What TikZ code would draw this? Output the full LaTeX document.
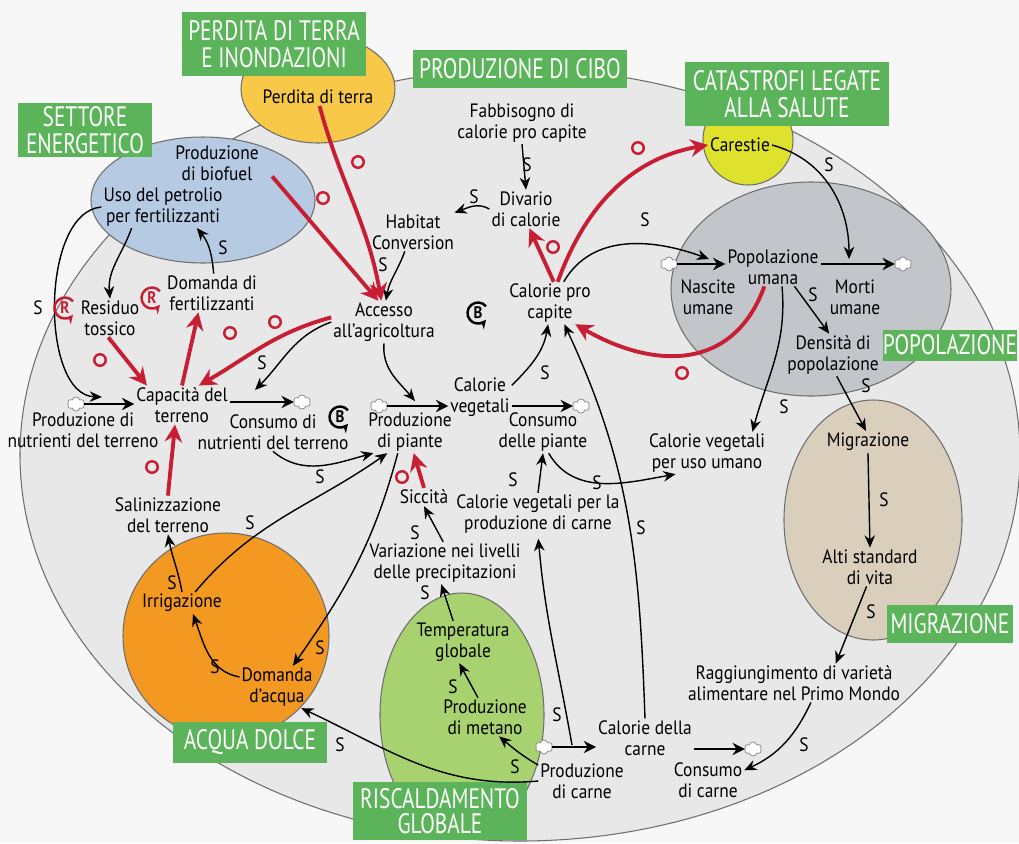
\documentclass[tikz,border=0pt]{standalone}
\usepackage{fontspec}
\setmainfont{PT Sans}[FakeStretch=0.9]
\newfontfamily\labfont{PT Sans}[FakeStretch=0.76]
\usepackage{tikz}
\usetikzlibrary{
  arrows.meta,
  shapes.geometric,
  shapes.symbols,
  positioning
}

\definecolor{bggray}{RGB}{247,247,247}
\definecolor{foodgray}{RGB}{232,232,232}
\definecolor{edgegray}{RGB}{110,110,110}
\definecolor{labgreen}{RGB}{92,180,90}
\definecolor{landyellow}{RGB}{248,200,72}
\definecolor{energyblue}{RGB}{182,202,228}
\definecolor{famineyellow}{RGB}{222,226,44}
\definecolor{popgray}{RGB}{194,198,203}
\definecolor{migrtan}{RGB}{217,207,188}
\definecolor{waterorange}{RGB}{243,152,32}
\definecolor{warmgreen}{RGB}{168,210,112}
\definecolor{arrred}{RGB}{200,30,52}

\begin{document}
\begin{tikzpicture}[x=0.02cm,y=-0.02cm,
  every text node part/.style={align=center},
  var/.style={font=\fontsize{11}{11.7}\selectfont,inner sep=1pt},
  tag/.style={fill=labgreen,text=white,font=\labfont\fontsize{16}{15.5}\selectfont,inner sep=0pt},
  sgn/.style={font=\fontsize{11}{11}\selectfont,inner sep=0pt},
  osgn/.style={circle,draw=arrred,line width=1.4pt,minimum size=2.3mm,inner sep=0pt},
  sarrow/.style={draw=black,line width=0.8pt,-{Stealth[length=7pt,width=6pt]}},
  oarrow/.style={draw=arrred,line width=2.2pt,-{Stealth[length=10pt,width=10pt]}},
  flow/.style={draw=black,line width=1.6pt,-{Stealth[length=7pt,width=7pt]}},
  sink/.style={cloud,cloud puffs=6,aspect=1.3,draw=gray,fill=white,inner sep=0pt,minimum width=3.4mm,minimum height=2.8mm},
  loopsym/.style={font=\fontsize{9.5}{9.5}\selectfont\bfseries,inner sep=0pt},
  area/.style={draw=edgegray,line width=0.6pt}]
  \useasboundingbox (0,0) rectangle (1019,843);
  \clip (0,0) rectangle (1019,843);
  \fill[bggray] (0,0) rectangle (1019,843);

  \draw[area,fill=foodgray] (520,455) ellipse[x radius=500,y radius=386];
  \draw[area,fill=landyellow] (318,89) ellipse[x radius=77,y radius=54];
  \draw[area,fill=energyblue] (203,200) ellipse[x radius=112,y radius=63];
  \draw[area,fill=famineyellow] (748,140) circle[radius=45];
  \draw[area,fill=popgray] (811,289) ellipse[x radius=140,y radius=107];
  \draw[area,fill=migrtan] (873,520) ellipse[x radius=89,y radius=120];
  \draw[area,fill=waterorange] (226,636) circle[radius=103];
  \draw[area,fill=warmgreen] (462,715) ellipse[x radius=82,y radius=122];

  \node[tag,minimum width=37mm,minimum height=12.8mm] (t1) at (274,44) {PERDITA DI TERRA\\E INONDAZIONI};
  \node[tag,minimum width=26.8mm,minimum height=10.8mm] (t2) at (85,130) {SETTORE\\ENERGETICO};
  \node[tag,minimum width=42.8mm,minimum height=7.6mm] (t3) at (520,69) {PRODUZIONE DI CIBO};
  \node[tag,minimum width=41mm,minimum height=12.8mm] (t4) at (787,94) {CATASTROFI LEGATE\\ALLA SALUTE};
  \node[tag,minimum width=27mm,minimum height=6.2mm] (t5) at (950,345) {POPOLAZIONE};
  \node[tag,minimum width=25.4mm,minimum height=7.6mm] (t6) at (950,624) {MIGRAZIONE};
  \node[tag,minimum width=31mm,minimum height=8.2mm] (t7) at (250,742) {ACQUA DOLCE};
  \node[tag,minimum width=35mm,minimum height=11.6mm,font=\labfont\fontsize{16}{14.5}\selectfont] (t8) at (440,811) {RISCALDAMENTO\\GLOBALE};

  \node[var] (1) at (318,97) {Perdita di terra};
  \node[var] (2) at (217,163) {Produzione\\di biofuel};
  \node[var] (3) at (163,207) {Uso del petrolio\\per fertilizzanti};
  \node[var] (4) at (522,123) {Fabbisogno di\\calorie pro capite};
  \node[var] (5) at (526,209) {Divario\\di calorie};
  \node[var] (6) at (413,232) {Habitat\\Conversion};
  \node[var] (7) at (740,145) {Carestie};
  \node[var] (8) at (212,293) {Domanda di\\fertilizzanti};
  \node[var] (9) at (110,318) {Residuo\\tossico};
  \node[var] (10) at (384,322) {Accesso\\all'agricoltura};
  \node[var] (11) at (550,303) {Calorie pro\\capite};
  \node[var] (12) at (773,267) {Popolazione\\umana};
  \node[var] (13) at (708,297) {Nascite\\umane};
  \node[var] (14) at (855,297) {Morti\\umane};
  \node[var] (15) at (833,355) {Densità di\\popolazione};
  \node[var] (16) at (182,405) {Capacità del\\terreno};
  \node[var] (17) at (83,430) {Produzione di\\nutrienti del terreno};
  \node[var] (18) at (273,432) {Consumo di\\nutrienti del terreno};
  \node[var] (19) at (410,432) {Produzione\\di piante};
  \node[var] (20) at (480,397) {Calorie\\vegetali};
  \node[var] (21) at (543,432) {Consumo\\delle piante};
  \node[var] (22) at (707,453) {Calorie vegetali\\per uso umano};
  \node[var] (23) at (868,442) {Migrazione};
  \node[var] (24) at (168,515) {Salinizzazione\\del terreno};
  \node[var] (25) at (424,497) {Siccità};
  \node[var] (26) at (538,514) {Calorie vegetali per la\\produzione di carne};
  \node[var] (27) at (445,563) {Variazione nei livelli\\delle precipitazioni};
  \node[var] (28) at (870,567) {Alti standard\\di vita};
  \node[var] (29) at (182,603) {Irrigazione};
  \node[var] (30) at (463,642) {Temperatura\\globale};
  \node[var] (31) at (277,687) {Domanda\\d'acqua};
  \node[var] (32) at (485,717) {Produzione\\di metano};
  \node[var] (33) at (794,683) {Raggiungimento di varietà\\alimentare nel Primo Mondo};
  \node[var] (34) at (645,738) {Calorie della\\carne};
  \node[var] (35) at (582,781) {Produzione\\di carne};
  \node[var] (36) at (708,780) {Consumo\\di carne};

  \node[sink] (c1) at (76,404) {};
  \node[sink] (c2) at (302,402) {};
  \node[sink] (c3) at (379,406) {};
  \node[sink] (c4) at (581,406) {};
  \node[sink] (c5) at (669,264) {};
  \node[sink] (c6) at (903,264) {};
  \node[sink] (c7) at (544,747) {};
  \node[sink] (c8) at (753,749) {};

  \coordinate (f1) at (102,397);
  \coordinate (f2) at (255,390);
  \coordinate (f3) at (415,401);
  \coordinate (f4) at (709,259);
  \coordinate (f5) at (849,259);
  \coordinate (f6) at (572,745);

  \draw[flow] (c1.east) -- (c1.east -| 16.west);
  \draw[flow] (16.east |- c2.west) -- (c2.west);
  \draw[flow] (c3.east) -- (c3.east -| 20.west);
  \draw[flow] (20.east |- c4.west) -- (c4.west);
  \draw[flow] (c5.east) -- (c5.east -| 12.west);
  \draw[flow] (12.east |- c6.west) -- (c6.west);
  \draw[flow] (c7.east) -- (c7.east -| 34.west);
  \draw[flow] (34.east |- c8.west) -- (c8.west);

  \draw[sarrow] (4.south) -- (5.north);
  \draw[sarrow] (5.west) to[out=150,in=20] (6.25);
  \draw[sarrow] (6.-113) to[out=250,in=80] (10.85);
  \draw[sarrow] (3.-146) to[out=250,in=95] (9.north);
  \draw[sarrow] (3.west) .. controls (40,212) and (40,395) .. (f1);
  \draw[sarrow] (8.85) to[out=95,in=-50] (3.-32);
  \draw[sarrow] (10.west) to[out=200,in=45] (f2);
  \draw[sarrow] (10.south) to[out=265,in=130] (f3);
  \draw[sarrow] (18.south) to[out=-40,in=195] (19.-150);
  \draw[sarrow] (29.40) to[out=50,in=215] (19.-137);
  \draw[sarrow] (19.-120) to[out=-105,in=55] (31.53);
  \draw[sarrow] (31.165) to[out=170,in=-70] (29.-45);
  \draw[sarrow] (29.north) to[out=100,in=-80] (24.south);
  \draw[sarrow] (20.20) to[out=45,in=-100] (11.-95);
  \draw[sarrow] (11.57) to[out=60,in=160] (f4);
  \draw[sarrow] (7.east) to[out=-15,in=90] (f5);
  \draw[sarrow] (12.-42) -- (15.100);
  \draw[sarrow] (12.-65) to[out=-85,in=75] (22.25);
  \draw[sarrow] (15.-80) -- (23.100);
  \draw[sarrow] (23.south) -- (28.north);
  \draw[sarrow] (28.-100) -- (33.25);
  \draw[sarrow] (33.-49) to[out=-115,in=25] (36.15);
  \draw[sarrow] (35.160) to[out=150,in=-40] (32.-54);
  \draw[sarrow] (32.110) -- (30.-100);
  \draw[sarrow] (30.115) -- (27.-100);
  \draw[sarrow] (27.95) -- (25.south);
  \draw[sarrow,shorten >=2pt] (f6) to[out=100,in=-85] (26.south);
  \draw[sarrow] (34.north) to[out=92,in=-65] (11.-56);
  \draw[sarrow] (21.-75) to[out=-60,in=190] (22.-146);
  \draw[sarrow] (26.north) -- (21.south);
  \draw[sarrow] (35.west) to[out=185,in=-25] (31.-41);

  \draw[oarrow,shorten <=10pt] (2.east) -- (10.105);
  \draw[oarrow] (1.-80) to[out=-75,in=100] (10.97);
  \draw[oarrow] (10.175) to[out=195,in=30] (16.49);
  \draw[oarrow] (16.north) -- (8.-125);
  \draw[oarrow] (9.-95) -- (16.151);
  \draw[oarrow] (24.north) to[out=85,in=-95] (16.-110);
  \draw[oarrow] (25.north) -- (19.-80);
  \draw[oarrow] (11.80) -- (5.-80);
  \draw[oarrow] (11.70) to[out=70,in=190] (7.west);
  \draw[oarrow] (12.-114) to[out=-110,in=-30,looseness=1.2] (11.-40);

  \node[osgn] (o1) at (323,198) {};
  \node[osgn] (o2) at (358,162) {};
  \node[osgn] (o3) at (275,322) {};
  \node[osgn] (o4) at (230,333) {};
  \node[osgn] (o5) at (100,360) {};
  \node[osgn] (o6) at (152,467) {};
  \node[osgn] (o7) at (402,477) {};
  \node[osgn] (o8) at (553,247) {};
  \node[osgn] (o9) at (638,148) {};
  \node[osgn] (o10) at (682,373) {};

  \node[sgn] (s1) at (527,165) {S};
  \node[sgn] (s2) at (474,197) {S};
  \node[sgn] (s3) at (383,265) {S};
  \node[sgn] (s4) at (223,248) {S};
  \node[sgn] (s5) at (38,308) {S};
  \node[sgn] (s6) at (262,363) {S};
  \node[sgn] (s7) at (320,477) {S};
  \node[sgn] (s8) at (250,523) {S};
  \node[sgn] (s9) at (320,648) {S};
  \node[sgn] (s10) at (215,667) {S};
  \node[sgn] (s11) at (172,583) {S};
  \node[sgn] (s12) at (545,373) {S};
  \node[sgn] (s13) at (645,220) {S};
  \node[sgn] (s14) at (829,165) {S};
  \node[sgn] (s15) at (813,295) {S};
  \node[sgn] (s16) at (784,407) {S};
  \node[sgn] (s17) at (866,386) {S};
  \node[sgn] (s18) at (884,500) {S};
  \node[sgn] (s19) at (871,612) {S};
  \node[sgn] (s20) at (804,745) {S};
  \node[sgn] (s21) at (515,767) {S};
  \node[sgn] (s22) at (453,687) {S};
  \node[sgn] (s23) at (425,593) {S};
  \node[sgn] (s24) at (415,533) {S};
  \node[sgn] (s25) at (557,715) {S};
  \node[sgn] (s26) at (641,528) {S};
  \node[sgn] (s27) at (597,483) {S};
  \node[sgn] (s28) at (513,480) {S};
  \node[sgn] (s29) at (340,745) {S};

  \node[loopsym,text=arrred] (r1) at (65,308) {R};
  \node[loopsym,text=arrred] (r2) at (152,298) {R};
  \node[loopsym] (b1) at (478,313) {B};
  \node[loopsym] (b2) at (340,417) {B};
  \draw[arrred,line width=1.4pt,-{Stealth[length=5pt,width=5pt]}] (r1) ++(40:2.1mm) arc[start angle=40,end angle=320,radius=2.1mm];
  \draw[arrred,line width=1.4pt,-{Stealth[length=5pt,width=5pt]}] (r2) ++(40:2.1mm) arc[start angle=40,end angle=320,radius=2.1mm];
  \draw[line width=1.4pt,-{Stealth[length=5pt,width=5pt]}] (b1) ++(40:2.1mm) arc[start angle=40,end angle=320,radius=2.1mm];
  \draw[line width=1.4pt,-{Stealth[length=5pt,width=5pt]}] (b2) ++(40:2.1mm) arc[start angle=40,end angle=320,radius=2.1mm];
\end{tikzpicture}
\end{document}
